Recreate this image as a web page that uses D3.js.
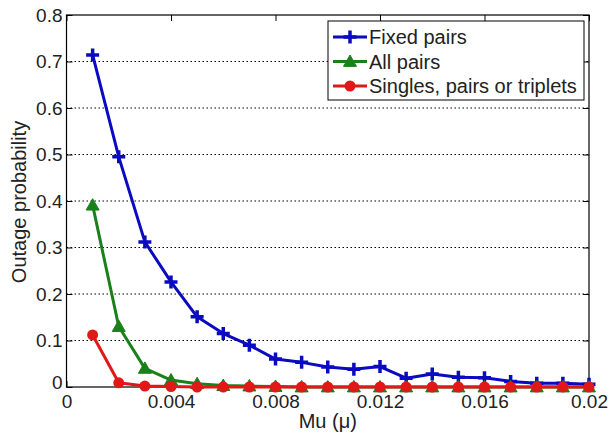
<!DOCTYPE html>
<html><head><meta charset="utf-8">
<script src="https://cdn.jsdelivr.net/npm/d3@7"></script>
<style>body{margin:0;background:#fff}svg{display:block}text{font-family:"Liberation Sans",Arial,sans-serif;fill:#222}</style>
</head><body><svg id="c" width="609" height="440"></svg>
<script>
const mu = [0.001,0.002,0.003,0.004,0.005,0.006,0.007,0.008,0.009,0.010,0.011,0.012,0.013,0.014,0.015,0.016,0.017,0.018,0.019,0.020];
const fixedPairs = [0.714,0.495,0.312,0.226,0.151,0.115,0.090,0.060,0.053,0.043,0.038,0.044,0.019,0.028,0.021,0.020,0.012,0.008,0.008,0.006];
const allPairs = [0.391,0.130,0.040,0.015,0.007,0.003,0.002,0.001,0,0,0,0,0,0,0,0,0,0,0,0];
const singlesPairsTriplets = [0.112,0.009,0.002,0.001,0,0,0,0,0,0,0,0,0,0,0,0,0,0,0,0];
const xTicks = [0,0.004,0.008,0.012,0.016,0.02];
const xTickLabels = ["0","0.004","0.008","0.012","0.016","0.02"];
const yTicks = [0,0.1,0.2,0.3,0.4,0.5,0.6,0.7,0.8];
const yTickLabels = ["0","0.1","0.2","0.3","0.4","0.5","0.6","0.7","0.8"];
const seriesNames = ["Fixed pairs","All pairs","Singles, pairs or triplets"];
const seriesColors = ["#0a0ac0","#1a801a","#e01818"];
const seriesMarkers = ["plus","triangle","circle"];

const L=66.5,R=589,T=15,B=387;
const svg=d3.select("#c");
const x=d3.scaleLinear().domain([0,0.02]).range([L,R]);
const y=d3.scaleLinear().domain([0,0.8]).range([B,T]);
const fs=19;

// grid
svg.append("g").selectAll("line").data(yTicks.filter(v=>v>0&&v<0.8)).join("line")
 .attr("x1",L).attr("x2",R).attr("y1",d=>y(d)).attr("y2",d=>y(d))
 .attr("stroke","#000").attr("stroke-width",1).attr("stroke-dasharray","1.5,2.5");

// axes
const fmtX=d=>xTickLabels[xTicks.indexOf(d)], fmtY=d=>yTickLabels[yTicks.indexOf(d)];
const ax=svg.append("g").attr("transform",`translate(0,${B})`).call(d3.axisBottom(x).tickValues(xTicks).tickFormat(fmtX).tickSizeInner(-6).tickSizeOuter(0).tickPadding(8));
const axT=svg.append("g").attr("transform",`translate(0,${T})`).call(d3.axisTop(x).tickValues(xTicks).tickFormat("").tickSizeInner(-6).tickSizeOuter(0));
const ay=svg.append("g").attr("transform",`translate(${L},0)`).call(d3.axisLeft(y).tickValues(yTicks).tickFormat(fmtY).tickSizeInner(-6).tickSizeOuter(0).tickPadding(4));
const ayR=svg.append("g").attr("transform",`translate(${R},0)`).call(d3.axisRight(y).tickValues(yTicks).tickFormat("").tickSizeInner(-6).tickSizeOuter(0));
[ax,axT,ay,ayR].forEach(g=>{g.select(".domain").remove();g.selectAll("line").attr("stroke","#000");g.selectAll("text").attr("font-size",fs).attr("font-family","Liberation Sans, Arial, sans-serif").attr("fill","#222");});
ay.selectAll(".tick text").filter(d=>d===0).attr("dy","0.1em");
svg.append("rect").attr("x",L).attr("y",T).attr("width",R-L).attr("height",B-T).attr("fill","none").attr("stroke","#000").attr("stroke-width",1.2);

// labels
svg.append("text").attr("x",x(0.01)).attr("y",428).attr("text-anchor","middle").attr("font-size",20).text("Mu (μ)");
svg.append("text").attr("transform",`translate(26,202) rotate(-90)`).attr("text-anchor","middle").attr("font-size",20).text("Outage probability");

function marker(g,type,color,cx,cy){
 if(type==="plus"){
  g.append("path").attr("d",`M${cx-6.5},${cy}H${cx+6.5}M${cx},${cy-6.5}V${cy+6.5}`).attr("stroke",color).attr("stroke-width",3.5).attr("fill","none");
 } else if(type==="triangle"){
  const s=6.5;
  g.append("path").attr("d",`M${cx},${cy-s}L${cx+s},${cy+s*0.75}L${cx-s},${cy+s*0.75}Z`).attr("fill",color).attr("stroke",color).attr("stroke-width",1);
 } else {
  g.append("circle").attr("cx",cx).attr("cy",cy).attr("r",5.5).attr("fill",color);
 }
}
const data=[fixedPairs,allPairs,singlesPairsTriplets];
const line=d3.line().x((d,i)=>x(mu[i])).y(d=>y(d));
data.forEach((vals,k)=>{
 const g=svg.append("g");
 g.append("path").attr("d",line(vals)).attr("fill","none").attr("stroke",seriesColors[k]).attr("stroke-width",3).attr("stroke-linejoin","round");
 vals.forEach((v,i)=>marker(g,seriesMarkers[k],seriesColors[k],x(mu[i]),y(v)));
});

// legend
const lg=svg.append("g");
lg.append("rect").attr("x",328).attr("y",21).attr("width",256).attr("height",79).attr("fill","#fff").attr("stroke","#000").attr("stroke-width",1);
seriesNames.forEach((n,k)=>{
 const yy=37+k*24.5;
 lg.append("line").attr("x1",333).attr("x2",367).attr("y1",yy).attr("y2",yy).attr("stroke",seriesColors[k]).attr("stroke-width",3);
 marker(lg,seriesMarkers[k],seriesColors[k],350,yy);
 lg.append("text").attr("x",369).attr("y",yy).attr("dy","0.35em").attr("font-size",20).text(n);
});
</script></body></html>
